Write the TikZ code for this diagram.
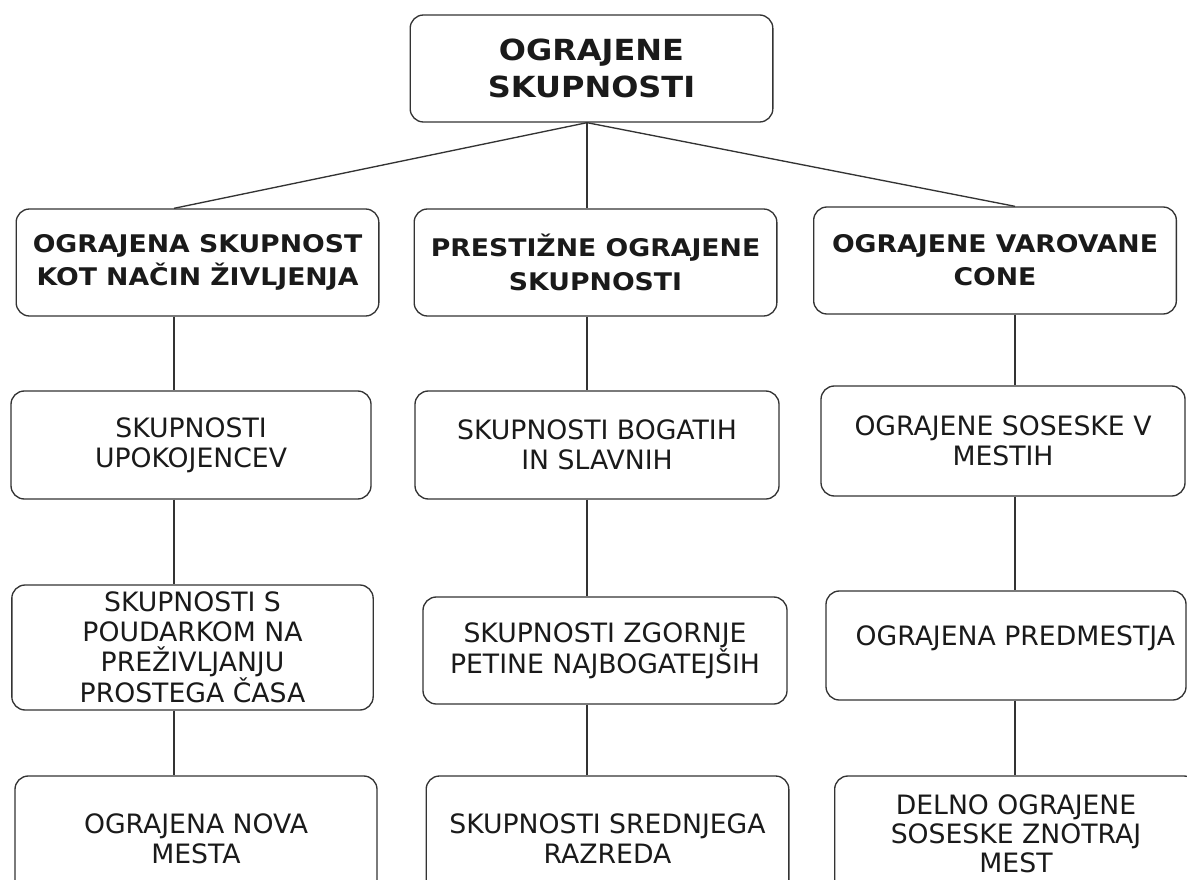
\documentclass[tikz,border=0pt]{standalone}
\usepackage{fontspec}
\setmainfont{DejaVu Sans}
\newfontfamily\headfont[FakeStretch=1.1]{DejaVu Sans Bold}
\usepackage{xcolor}
\definecolor{ink}{HTML}{1A1A1A}
\definecolor{edge}{HTML}{333333}
\tikzset{
  every node/.style={text=ink},
  box/.style={draw=edge,line width=1pt,rounded corners=10pt,fill=white,align=center,inner sep=2pt,minimum width=272pt,minimum height=80.25pt},
  topbox/.style={box,font=\fontsize{21.8}{27.5}\headfont},
  catbox/.style={box,font=\fontsize{18.2}{25}\headfont},
  subbox/.style={box,font=\fontsize{20}{22.5}\selectfont},
  link/.style={draw=edge,line width=1pt},
}

\begin{document}
\begin{tikzpicture}[x=0.75pt,y=-0.75pt]

\clip (0,0) rectangle (1187,880);
\fill[white] (0,0) rectangle (1187,880);

% columns of the connectors
\coordinate (cola) at (174,0);
\coordinate (colb) at (587,0);
\coordinate (colc) at (1015,0);

\node[topbox] (top) at (591.5,68.5) {OGRAJENE\\SKUPNOSTI};

\node[catbox] (l1a) at (197.5,262.5) {OGRAJENA SKUPNOST\\KOT NAČIN ŽIVLJENJA};
\node[catbox] (l1b) at (595.5,262.5) {PRESTIŽNE OGRAJENE\\SKUPNOSTI};
\node[catbox] (l1c) at (995,260.5) {OGRAJENE VAROVANE\\CONE};

\node[subbox,minimum width=270pt,minimum height=81pt] (l2a) at (191,445) {SKUPNOSTI\\UPOKOJENCEV};
\node[subbox,minimum width=273pt,minimum height=81pt] (l2b) at (597,445) {SKUPNOSTI BOGATIH\\IN SLAVNIH};
\node[subbox,minimum width=273pt,minimum height=82.5pt] (l2c) at (1003,441) {OGRAJENE SOSESKE V\\MESTIH};

\node[subbox,minimum width=271pt,minimum height=93.75pt] (l3a) at (192.5,647.5) {SKUPNOSTI S\\POUDARKOM NA\\PREŽIVLJANJU\\PROSTEGA ČASA};
\node[subbox,minimum width=273pt] (l3b) at (605,650.5) {SKUPNOSTI ZGORNJE\\PETINE NAJBOGATEJŠIH};
\node[subbox,minimum width=270pt,minimum height=81.75pt,text depth=15pt] (l3c) at (1006,645.5) {\hspace*{14pt}OGRAJENA PREDMESTJA};

\node[subbox,minimum width=271.5pt,minimum height=94.5pt] (l4a) at (196,839) {OGRAJENA NOVA\\MESTA};
\node[subbox,minimum width=272pt,minimum height=94.5pt] (l4b) at (607.5,839) {SKUPNOSTI SREDNJEGA\\RAZREDA};
\node[subbox,minimum width=272pt,minimum height=94.5pt,font=\fontsize{20}{21.8}\selectfont,text depth=8pt] (l4c) at (1016,839) {DELNO OGRAJENE\\SOSESKE ZNOTRAJ\\MEST};

\foreach \c in {a,b,c}{
  \draw[link] (top.south -| colb) -- (l1\c.north -| col\c);
  \draw[link] (l1\c.south -| col\c) -- (l2\c.north -| col\c);
  \draw[link] (l2\c.south -| col\c) -- (l3\c.north -| col\c);
  \draw[link] (l3\c.south -| col\c) -- (l4\c.north -| col\c);
}

\end{tikzpicture}
\end{document}
